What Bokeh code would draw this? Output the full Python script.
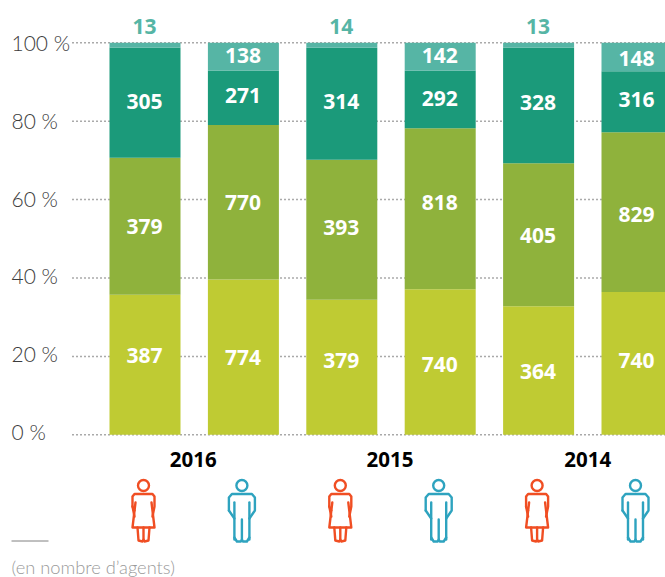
from bokeh.plotting import figure
from bokeh.embed import file_html
from bokeh.resources import INLINE
from bokeh.models import Range1d
from bokeh.core.properties import value

years = ["2016", "2015", "2014"]
groups = ["F 2016", "H 2016", "F 2015", "H 2015", "F 2014", "H 2014"]
seg_a = [387, 774, 379, 740, 364, 740]
seg_b = [379, 770, 393, 818, 405, 829]
seg_c = [305, 271, 314, 292, 328, 316]
seg_d = [13, 138, 14, 142, 13, 148]
colors = ["#bfcb33", "#8fb23c", "#1b9a7a", "#56b5a5"]
ticks = [0, 20, 40, 60, 80, 100]
tick_labels = ["0 %", "20 %", "40 %", "60 %", "80 %", "100 %"]
note = "(en nombre d\u2019agents)"
# vertical nudges of the value labels, in pixels
nudge_a = [-9, 0, -7, 3, 1, -3]
nudge_b = [0, 0, -2, -6, 1, 2]
nudge_c = [-1, -2, -2, -1, -3, -2]
nudge_d = [0, -1, 0, -1, 0, 1]

W, H = 665, 577
X0, XU = 144.5, 98.4     # page pixel of bar 0 and pixels per bar step
Y0, YU = 434.3, 3.92     # page pixel of 0 % and pixels per percent


def dx(px):
    return (px - X0) / XU


def dy(py):
    return (Y0 - py) / YU


p = figure(width=W, height=H, output_backend="svg", toolbar_location=None,
           x_axis_location=None, y_axis_location=None, min_border=0,
           x_range=Range1d(dx(0), dx(W)), y_range=Range1d(dy(H), dy(0)))
p.outline_line_color = None
p.xgrid.visible = False
p.ygrid.visible = False

p.segment(x0=[dx(72)] * 6, x1=[dx(665)] * 6, y0=ticks, y1=ticks,
          line_color="#555555", line_width=1.5, line_dash="1 3")

xs = list(range(len(groups)))
bottom = [0.0] * 6
for seg, col, nudge in zip([seg_a, seg_b, seg_c, seg_d], colors,
                           [nudge_a, nudge_b, nudge_c, nudge_d]):
    tot = [a + b + c + d for a, b, c, d in zip(seg_a, seg_b, seg_c, seg_d)]
    pct = [v / t * 100 for v, t in zip(seg, tot)]
    top = [b + v for b, v in zip(bottom, pct)]
    p.vbar(x=xs, bottom=bottom, top=top, width=71 / XU, color=col, line_color=None)
    mids = [(b + t) / 2 for b, t in zip(bottom, top)]
    ly, lc = [], []
    for i in xs:
        if seg[i] < 50:
            ly.append(dy(26)); lc.append("#56b5a5")
        else:
            ly.append(mids[i] - nudge[i] / YU); lc.append("#ffffff")
    p.text(x=[i - 0.005 for i in xs], y=ly, text=[str(v) for v in seg], text_color=lc,
           text_font=value("Open Sans"), text_font_style="bold", text_font_size="21px",
           text_align="center", text_baseline="middle")
    bottom = top

# y labels
p.text(x=[dx(11)] * 6, y=[0.9 + 0.991 * t for t in ticks], text=tick_labels,
       text_color="#3c3c3c", text_font=value("Lato Light, Lato"), text_font_size="21px",
       text_align="left", text_baseline="middle")

# year labels
p.text(x=[0.49, 2.49, 4.5], y=[dy(459)] * 3, text=years, text_color="#000000",
       text_font=value("Open Sans"), text_font_style="bold", text_font_size="20.5px",
       text_align="center", text_baseline="middle")

# footnote
p.line(x=[dx(11), dx(48)], y=[dy(540.5)] * 2, line_color="#808080", line_width=1)
p.text(x=[dx(11)], y=[dy(566)], text=[note], text_color="#9a9a9a",
       text_font=value("Lato Light, Lato"), text_font_size="18.3px", text_align="left",
       text_baseline="middle")

# pictograms: outlines given as pixel offsets from the bar centre
woman = [
    [(-9, 510), (-11, 506), (-11, 496), (-9, 493.5), (9, 493.5), (11, 496), (11, 506), (9, 516)],
    [(-11, 506), (-9, 516)],
    [(-8, 502), (-11, 527), (11, 527), (8, 502)],
    [(-6, 527), (-5, 540), (-1, 541), (0, 539), (0, 527)],
    [(6, 527), (5, 540), (1, 541), (0, 539)],
]
man = [
    [(-7.5, 539), (-7.5, 502)],
    [(7.5, 502), (7.5, 539)],
    [(-13, 510), (-13, 497), (-10, 493.5), (10, 493.5), (13, 497), (13, 510), (7.5, 518)],
    [(-13, 510), (-7.5, 518)],
    [(-7.5, 537), (-5, 541), (-1, 541), (0, 539), (0, 519)],
    [(7.5, 537), (5, 541), (1, 541), (0, 539)],
]
for i, (shape, col) in enumerate([(woman, "#f04e23"), (man, "#2ea3bf")] * 3):
    cx = X0 + XU * i - 1.5
    p.multi_line(xs=[[dx(cx + a) for a, _ in s] for s in shape],
                 ys=[[dy(b) for _, b in s] for s in shape],
                 line_color=col, line_width=2.4, line_join="round", line_cap="round")
    p.scatter(x=[dx(cx)], y=[dy(485)], size=11, marker="circle", fill_color=None,
              line_color=col, line_width=2.4)

open("out.html", "w").write(file_html(p, INLINE))
